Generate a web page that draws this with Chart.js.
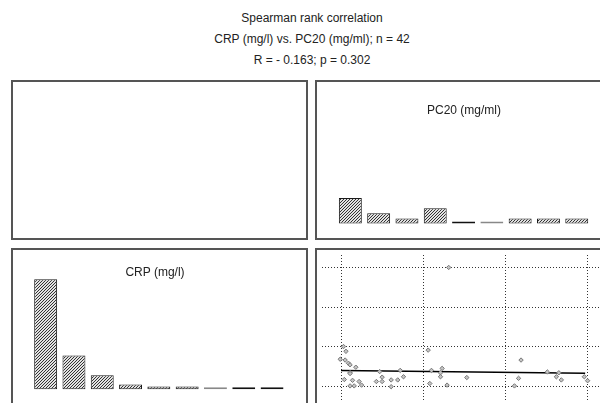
<!DOCTYPE html>
<html>
<head>
<meta charset="utf-8">
<script src="https://cdn.jsdelivr.net/npm/chart.js@4.4.0/dist/chart.umd.min.js"></script>
<style>
  html, body { margin: 0; padding: 0; background: #fff; }
  body { width: 600px; height: 403px; overflow: hidden; position: relative; }
  .title {
    position: absolute; left: 0; top: 8px; width: 624px;
    text-align: center; font: 12px "Liberation Sans", Arial, sans-serif;
    line-height: 21px; color: #222;
  }
  .panel {
    position: absolute; width: 297px; height: 160px;
    border: 2px solid #555; box-sizing: border-box;
  }
  .ptitle {
    position: absolute; transform: translate(-50%, -50%); white-space: nowrap;
    font: 12px "Liberation Sans", Arial, sans-serif; color: #222;
  }
  canvas { position: absolute; }
</style>
</head>
<body>
<div class="title">Spearman rank correlation<br>CRP (mg/l) vs. PC20 (mg/ml); n = 42<br>R = - 0.163; p = 0.302</div>

<div class="panel" style="left:11px; top:80px;"></div>
<div class="panel" style="left:315px; top:80px;"></div>
<div class="panel" style="left:11px; top:248px;"></div>
<div class="panel" style="left:315px; top:248px;"></div>

<canvas id="pc20Chart" width="293" height="156" style="left:317px; top:82px;"></canvas>
<canvas id="crpChart" width="293" height="156" style="left:13px; top:250px;"></canvas>
<canvas id="scatterChart" width="293" height="156" style="left:317px; top:250px;"></canvas>

<div class="ptitle" style="left:464px; top:110px;">PC20 (mg/ml)</div>
<div class="ptitle" style="left:155px; top:272px;">CRP (mg/l)</div>

<script>
// Histogram bins
const binLabels = ['1', '2', '3', '4', '5', '6', '7', '8', '9'];
const pc20Counts = [5, 2, 1, 3, 0, 0, 1, 1, 1];
const crpCounts = [23.4, 7.2, 3.0, 1.0, 0.6, 0.6, 0, 0, 0];

// Scatter points (grid units, no axis labels shown in the picture)
const scatterX = [0.03, 0.06, -0.01, 0.05, 0.09, 0.11, 0.18, 0.11, 0.11, 0.04, 0.14, 0.22, 0.11, 0.16, 0.25,
    0.47, 0.43, 0.50, 0.50, 0.61, 0.61, 0.69, 0.72, 0.76,
    1.06, 1.08, 1.10, 1.21, 1.23, 1.21, 1.29, 1.31, 1.53,
    2.11, 2.16, 2.19, 2.51, 2.62, 2.65, 2.68, 2.96, 3.00];
const scatterY = [1.01, 0.89, 0.69, 0.67, 0.59, 0.55, 0.49, 0.35, 0.33, 0.18, 0.16, 0.13, 0.02, 0.02, 0.04,
    0.38, 0.13, 0.13, 0.24, 0.17, 0.00, 0.17, 0.41, 0.25,
    0.92, 0.08, 0.41, 0.35, 0.46, 0.25, 0.04, 3.00, 0.23,
    0.02, 0.21, 0.67, 0.37, 0.25, 0.35, 0.17, 0.25, 0.15];

// Fitted line
const fitX = [0, 2.97];
const fitY = [0.41, 0.34];

const gridTicks = [0, 1, 2, 3];

// Diagonal hatch fill like the original bars
function makeHatch() {
    const c = document.createElement('canvas');
    c.width = 3;
    c.height = 3;
    const g = c.getContext('2d');
    g.fillStyle = '#e2e2e2';
    g.fillRect(0, 0, 3, 3);
    g.fillStyle = '#333';
    for (let i = 0; i < 3; i++) g.fillRect(2 - i, i, 1, 1);
    return g.createPattern(c, 'repeat');
}
const hatch = makeHatch();

function histogram(id, counts, yMax, padding, thinZero) {
    new Chart(document.getElementById(id), {
        type: 'bar',
        data: {
            labels: binLabels,
            datasets: [{
                data: counts,
                backgroundColor: ctx => counts[ctx.dataIndex] === 0
                    ? (thinZero.includes(ctx.dataIndex) ? '#888' : '#111')
                    : hatch,
                borderColor: ctx => counts[ctx.dataIndex] === 0
                    ? (thinZero.includes(ctx.dataIndex) ? '#888' : '#111')
                    : '#1a1a1a',
                borderWidth: 1,
                borderSkipped: false,
                minBarLength: 2,
                barPercentage: 0.81,
                categoryPercentage: 1,
                clip: false
            }]
        },
        options: {
            responsive: false,
            animation: false,
            events: [],
            layout: { padding: padding },
            plugins: { legend: { display: false }, tooltip: { enabled: false } },
            scales: {
                x: { display: false },
                y: { display: false, min: 0, max: yMax }
            }
        }
    });
}

histogram('pc20Chart', pc20Counts, 27.7, { left: 19.2, right: 19.1, top: 0, bottom: 14.5 }, [5]);
histogram('crpChart', crpCounts, 29.6, { left: 18.5, right: 19.8, top: 0, bottom: 16.7 }, [6]);

// Scatter with fitted line
const dotted = {
    ticks: { display: false },
    grid: { color: '#333', lineWidth: 1, drawTicks: false },
    border: { display: false, dash: [1, 2] }
};

new Chart(document.getElementById('scatterChart'), {
    type: 'scatter',
    data: {
        datasets: [
            {
                type: 'line',
                data: fitX.map((x, i) => ({ x: x, y: fitY[i] })),
                borderColor: '#000',
                borderWidth: 1.5,
                pointRadius: 0,
                order: 1
            },
            {
                data: scatterX.map((x, i) => ({ x: x, y: scatterY[i] })),
                pointStyle: 'rectRot',
                pointRadius: 2.2,
                backgroundColor: '#c4c4c4',
                borderColor: '#777',
                borderWidth: 1,
                order: 0
            }
        ]
    },
    options: {
        responsive: false,
        animation: false,
        events: [],
        layout: { padding: 0 },
        plugins: { legend: { display: false }, tooltip: { enabled: false } },
        scales: {
            x: Object.assign({
                type: 'linear', min: -0.2315, max: 3.2115,
                afterBuildTicks: s => { s.ticks = gridTicks.map(v => ({ value: v })); },
                afterFit: s => { s.height = 0; }
            }, dotted),
            y: Object.assign({
                type: 'linear', min: -0.36, max: 3.313,
                afterBuildTicks: s => { s.ticks = gridTicks.map(v => ({ value: v })); },
                afterFit: s => { s.width = 0; }
            }, dotted)
        }
    }
});
</script>
</body>
</html>
